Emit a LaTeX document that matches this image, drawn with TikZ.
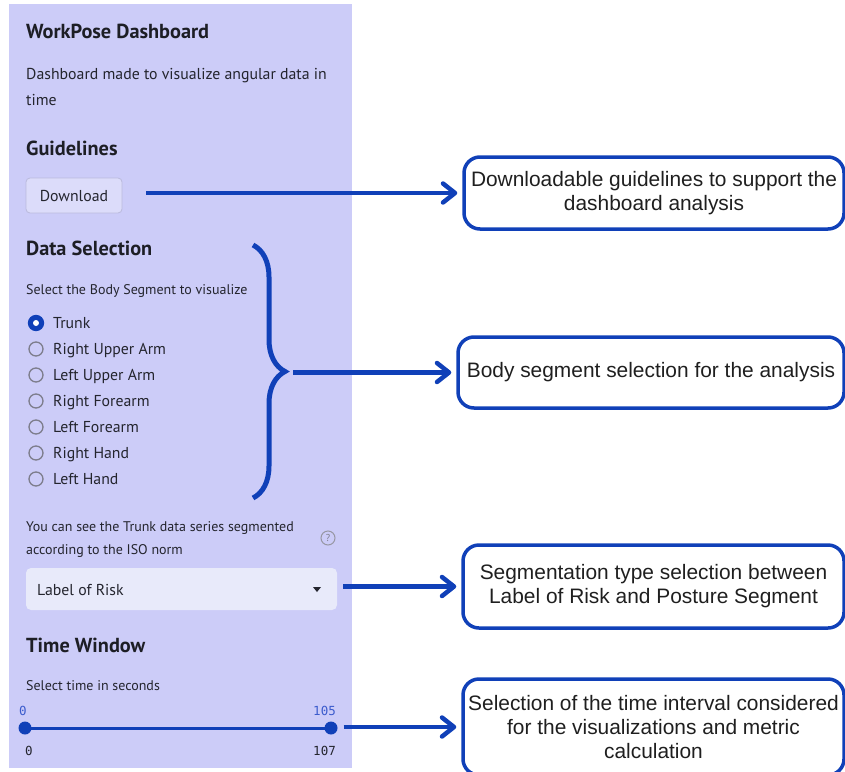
\documentclass[tikz,border=0pt]{standalone}
\usepackage{fontspec}
\setmainfont{Liberation Sans}
\newfontfamily\uifont{PT Sans}
\setmonofont{DejaVu Sans Mono}
\usepackage{tikz}
\usetikzlibrary{arrows.meta,positioning,decorations.pathreplacing,calc}
\usepackage{xcolor}
\definecolor{wpblue}{RGB}{16,64,184}
\definecolor{wppanel}{RGB}{204,204,248}
\definecolor{wpbutton}{RGB}{220,220,250}
\definecolor{wpbtnline}{RGB}{186,186,220}
\definecolor{wpselect}{RGB}{232,234,250}
\definecolor{wpgray}{RGB}{125,125,140}
\definecolor{wptext}{RGB}{36,37,46}
\definecolor{wpslider}{RGB}{60,92,205}
\tikzstyle{arrow} = [line width=4.5pt,-{Straight Barb[length=12pt,width=19pt,round]},color=wpblue,shorten >=5pt]
\tikzstyle{notebox} = [rectangle, rounded corners=16pt, draw=wpblue, line width=3.5pt, align=center, inner sep=2pt, text=black!88, font=\fontsize{20.9}{24}\selectfont]
\tikzstyle{heading} = [anchor=base west, inner sep=0pt, text=wptext!80!black, font=\uifont\bfseries\fontsize{20.3}{22}\selectfont]
\tikzstyle{uitext} = [anchor=base west, inner sep=0pt, text=wptext, font=\uifont\fontsize{15.8}{18}\selectfont]
\tikzstyle{smalltext} = [anchor=base west, inner sep=0pt, text=wptext, font=\uifont\fontsize{14}{16}\selectfont]
\tikzstyle{numtext} = [inner sep=0pt, font=\ttfamily\fontsize{12.5}{14}\selectfont]
\tikzstyle{radio} = [circle, draw=wpgray, line width=1.3pt, minimum size=14pt, inner sep=0pt]
\tikzstyle{brace} = [decorate, decoration={brace, amplitude=32pt}, line width=5pt, color=wpblue]

\begin{document}
\begin{tikzpicture}[x=1pt, y=-1pt]
\useasboundingbox (0,0) rectangle (845,771);

% Sidebar
\fill[wppanel] (9,4) rectangle (352,768);
\node[heading] (title) at (26,38.5) {WorkPose Dashboard};
\node[uitext] (desc1) at (26,79.5) {Dashboard made to visualize angular data in};
\node[uitext] (desc2) at (26,105) {time};

% Guidelines
\node[heading] (guide) at (26,155.5) {Guidelines};
\node[draw=wpbtnline, fill=wpbutton, rounded corners=4pt, line width=0.8pt,
  minimum width=96pt, minimum height=35pt, inner sep=0pt,
  text=wptext, font=\uifont\fontsize{15.8}{18}\selectfont] (dl) at (74,195.5) {Download};

% Data Selection
\node[heading] (data) at (26,255) {Data Selection};
\node[smalltext] (segtxt) at (26,294) {Select the Body Segment to visualize};
\node[radio, draw=wpblue, fill=wpblue, minimum size=15pt] (r0) at (36,323) {};
\fill[white] (r0) circle (3pt);
\node[uitext] (l0) at (53,328.5) {Trunk};
\foreach \lbl [count=\i] in {Right Upper Arm,Left Upper Arm,Right Forearm,Left Forearm,Right Hand,Left Hand}{
  \node[radio] (r\i) at (36,{323+26*\i}) {};
  \node[uitext] (l\i) at (53,{328.5+26*\i}) {\lbl};
}

% Segmentation
\node[smalltext] (isotxt1) at (26,531) {You can see the Trunk data series segmented};
\node[smalltext] (isotxt2) at (26,554.5) {according to the ISO norm};
\node[circle, draw=wpgray!80, line width=1pt, minimum size=14pt, inner sep=0pt,
  text=wpgray, font=\uifont\fontsize{10}{10}\selectfont] (help) at (328,538) {?};
\node[fill=wpselect, rounded corners=5pt, minimum width=311pt, minimum height=42pt, inner sep=0pt] (dd) at (181.5,589) {};
\node[uitext] (risk) at (37,595.5) {Label of Risk};
\fill[wptext] (313,587) -- (321,587) -- (317,592) -- cycle;

% Time Window
\node[heading] (time) at (26,652.5) {Time Window};
\node[smalltext] (sectxt) at (26,690.5) {Select time in seconds};
\node[numtext, text=wpslider, anchor=base west] (v0) at (19,715) {0};
\node[numtext, text=wpslider, anchor=base east] (v1) at (336,715) {105};
\draw[wpblue, line width=3pt] (25,728) -- (331,728);
\node[circle, fill=wpblue, minimum size=13pt, inner sep=0pt] (s1) at (25,728) {};
\node[circle, fill=wpblue, minimum size=13pt, inner sep=0pt] (s2) at (331,728) {};
\node[numtext, text=wptext, anchor=base west] (m0) at (25,755) {0};
\node[numtext, text=wptext, anchor=base east] (m1) at (336,755) {107};

% Brace over the body segments
\draw[brace] (253,245) -- (253,498);
\coordinate (bt) at (288,372);

% Notes
\node[notebox, minimum width=380pt, minimum height=72pt] (b1) at (654,193) {Downloadable guidelines to support the\\dashboard analysis};
\node[notebox, minimum width=386pt, minimum height=71pt] (b2) at (651,372.5) {Body segment selection for the analysis};
\node[notebox, minimum width=381pt, minimum height=83pt] (b3) at (653.5,586.5) {Segmentation type selection between\\Label of Risk and Posture Segment};
\node[notebox, minimum width=381pt, minimum height=96pt] (b4) at (653.5,727) {Selection of the time interval considered\\for the visualizations and metric\\calculation};

% Arrows
\draw[arrow] ([xshift=24pt]dl.east |- b1.west) -- (b1.west);
\draw[arrow] ([xshift=5pt]bt |- b2.west) -- (b2.west);
\draw[arrow] ([xshift=6pt]dd.east |- b3.west) -- (b3.west);
\draw[arrow] ([xshift=6pt]s2.east |- b4.west) -- (b4.west);
\end{tikzpicture}
\end{document}
